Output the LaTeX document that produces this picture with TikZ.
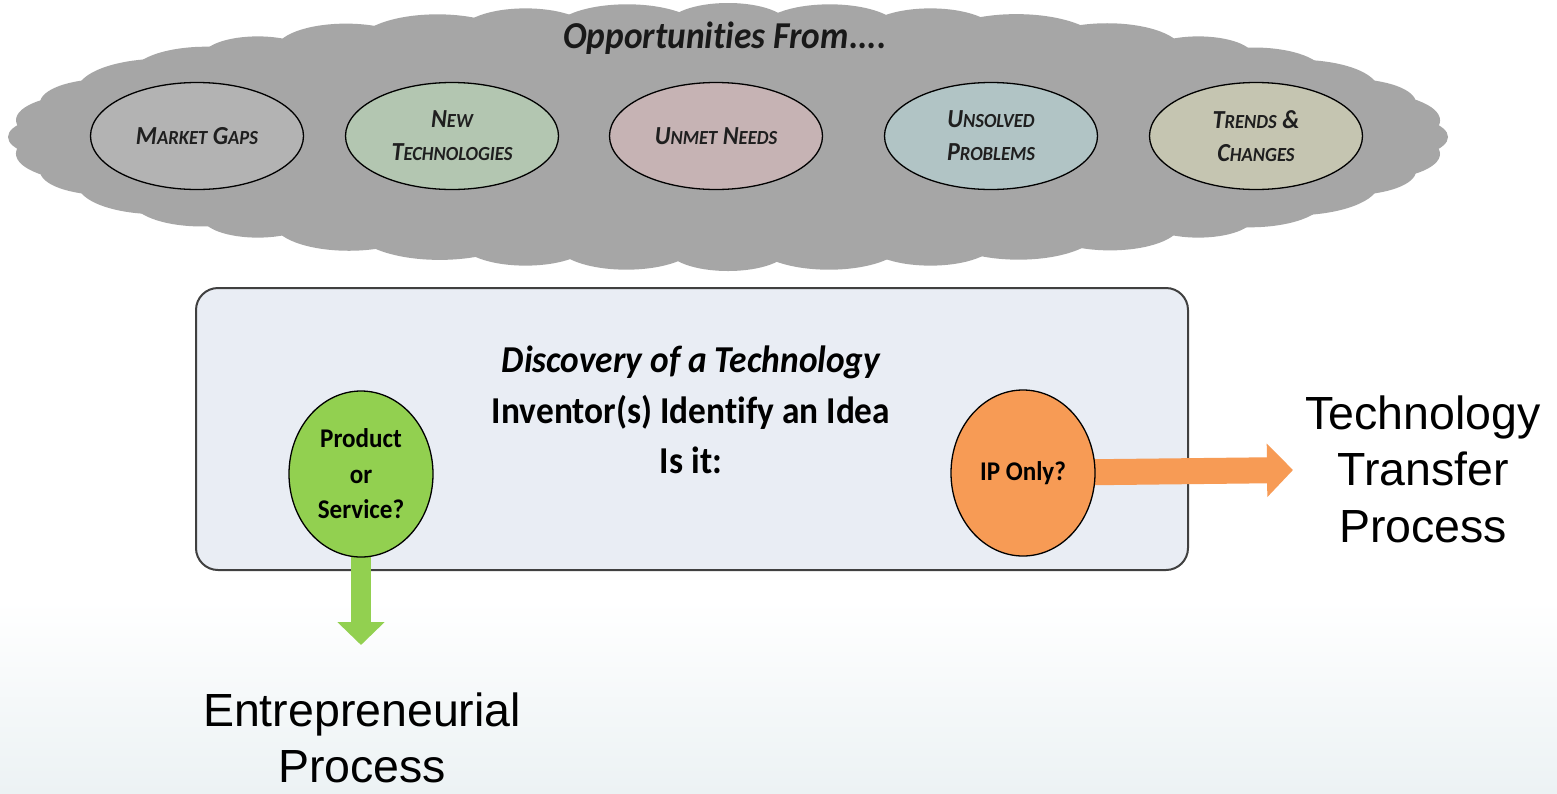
\documentclass[tikz,border=0pt]{standalone}
\usepackage{fontspec}
\setmainfont[Ligatures={NoCommon,NoContextual},Contextuals=NoAlternate]{Carlito}
\newfontfamily\calf[FakeStretch=0.93,Ligatures={NoCommon,NoContextual},Contextuals=NoAlternate]{Carlito}
\newfontfamily\arlf{Liberation Sans}
\usetikzlibrary{shapes.geometric,arrows.meta}
\pgfdeclarelayer{back}
\pgfdeclarelayer{mid}
\pgfsetlayers{back,mid,main}
\definecolor{cloudg}{HTML}{A6A6A6}
\definecolor{cMarket}{HTML}{B3B3B3}
\definecolor{cNew}{HTML}{B3C6B1}
\definecolor{cUnmet}{HTML}{C6B3B4}
\definecolor{cUnsolved}{HTML}{B1C4C5}
\definecolor{cTrends}{HTML}{C5C5B1}
\definecolor{boxfill}{HTML}{E9EDF4}
\definecolor{boxline}{HTML}{404040}
\definecolor{pgreen}{HTML}{92D050}
\definecolor{porange}{HTML}{F79B55}
\definecolor{bgblue}{HTML}{ECF2F4}
\newcommand\smc[1]{{\fontsize{20}{20}\selectfont #1}}
\begin{document}
\begin{tikzpicture}[x=1pt,y=-1pt,
  bub/.style={ellipse, draw=black, line width=1.3pt, minimum width=213pt,
    minimum height=107pt, inner sep=0pt, text=black!88, align=center,
    font=\calf\bfseries\itshape\fontsize{26}{33}\selectfont},
  circ/.style={ellipse, draw=black, line width=1.3pt, minimum width=144pt,
    minimum height=166pt, inner sep=0pt, text=black, align=center,
    font=\calf\bfseries\fontsize{27}{35.5}\selectfont},
  boxtxt/.style={anchor=base, text=black, font=\calf\bfseries\fontsize{38}{46}\selectfont},
  outtxt/.style={align=center, text=black, font=\arlf\fontsize{46.5}{56.5}\selectfont}]
\useasboundingbox (0,0) rectangle (1557,793);
\begin{pgfonlayer}{back}
  \fill[white] (0,0) rectangle (1557,793);
  \shade[top color=white, bottom color=bgblue] (0,600) rectangle (1557,793);
  % cloud
  \fill[cloudg] (728,137) ellipse [x radius=660, y radius=110];
  \foreach \a/\w/\h in {0/60/22, 9/75/28, 18/65/24, 27/80/30, 36/70/26, 45/55/20,
      54/75/28, 63/85/32, 72/65/24, 81/70/26, 90/60/22, 99/75/28, 108/65/24,
      117/80/30, 126/70/26, 135/55/20, 144/75/28, 153/85/32, 162/65/24, 171/70/26,
      180/60/22, 189/75/28, 198/65/24, 207/80/30, 216/70/26, 225/55/20, 234/75/28,
      243/85/32, 252/65/24, 261/70/26, 270/60/22, 279/75/28, 288/65/24, 297/80/30,
      306/70/26, 315/55/20, 324/75/28, 333/85/32, 342/65/24, 351/70/26}
    \fill[cloudg] ({728+(720-\w)*cos(\a)},{137-(134-\h)*sin(\a)})
      ellipse [x radius=\w, y radius=\h];
  % box
  \node[draw=boxline, fill=boxfill, line width=2pt, rounded corners=22pt,
    minimum width=992pt, minimum height=282pt, inner sep=0pt] (box) at (692,429) {};
\end{pgfonlayer}

\node[anchor=base, font=\calf\bfseries\itshape\fontsize{38}{46}\selectfont, text=black!90]
  (title) at (725,48) {Opportunities From....};

\node[bub, fill=cMarket] (mg) at (197,136) {M\smc{ARKET} G\smc{APS}};
\node[bub, fill=cNew] (nt) at (452,136) {N\smc{EW}\\T\smc{ECHNOLOGIES}};
\node[bub, fill=cUnmet] (un) at (716,136) {U\smc{NMET} N\smc{EEDS}};
\node[bub, fill=cUnsolved] (up) at (991,136) {U\smc{NSOLVED}\\P\smc{ROBLEMS}};
\node[bub, fill=cTrends] (tc) at (1256,136) {T\smc{RENDS} \&\\C\smc{HANGES}};

\node[boxtxt, font=\calf\bfseries\itshape\fontsize{38}{46}\selectfont] (disc) at (691,372) {Discovery of a Technology};
\node[boxtxt] (inv) at (691,423) {Inventor(s) Identify an Idea};
\node[boxtxt] (isit) at (691,473) {Is it:};

\node[circ, fill=pgreen] (prod) at (361,474) {Product\\or\\Service?};
\node[circ, fill=porange] (ip) at (1023,473) {IP Only?};

\node[outtxt] (tt) at (1423,469) {Technology\\Transfer\\Process};
\node[outtxt] (ent) at (362,738) {Entrepreneurial\\Process};

\coordinate (ttEnd) at (1293,470);
\coordinate (entEnd) at (361,645);

\begin{pgfonlayer}{mid}
  \draw[porange, line width=26pt, -{Triangle[width=52pt, length=26pt]}] (ip.center) -- (ttEnd);
  \draw[pgreen, line width=20pt, -{Triangle[width=46pt, length=23pt]}] (prod.center) -- (entEnd);
\end{pgfonlayer}
\end{tikzpicture}
\end{document}
